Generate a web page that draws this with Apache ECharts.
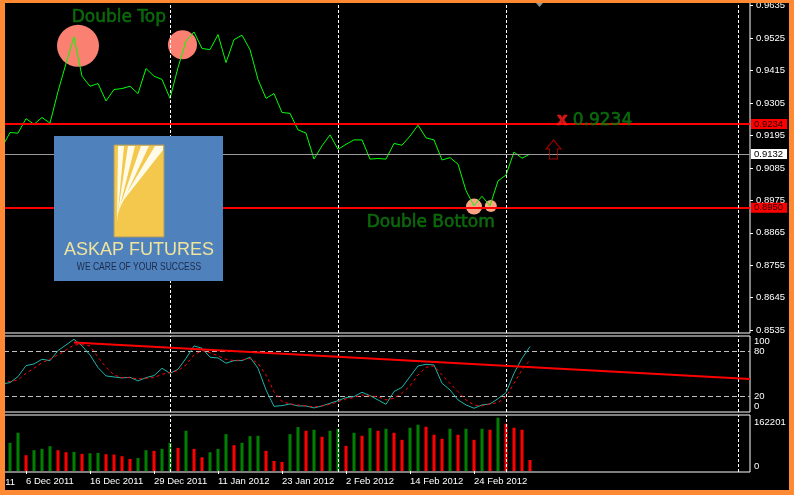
<!DOCTYPE html>
<html><head><meta charset="utf-8">
<script src="https://cdn.jsdelivr.net/npm/echarts@6/dist/echarts.min.js"></script>
<style>html,body{margin:0;padding:0;background:#000;}#c{width:794px;height:495px;}</style>
</head><body><div id="c"></div>
<script>
// ---- data (bar index i: one daily bar per index) ----
const closes = [0.9155,0.9205,0.9203,0.9252,0.9233,0.9256,0.9237,0.9344,0.9439,0.9529,
0.9396,0.9362,0.9371,0.9312,0.9351,0.9354,0.9362,0.9337,0.9422,0.9396,
0.9385,0.9321,0.9425,0.9515,0.9546,0.9490,0.9486,0.9537,0.9442,0.9520,
0.9535,0.9486,0.9385,0.9321,0.9337,0.9273,0.9270,0.9214,0.9203,0.9115,
0.9160,0.9197,0.9148,0.9165,0.9180,0.9180,0.9115,0.9117,0.9115,0.9168,
0.9162,0.9193,0.9230,0.9187,0.9180,0.9112,0.9120,0.9098,0.9008,0.8957,
0.8989,0.8957,0.9041,0.9061,0.9139,0.9118,0.9132];
const stochMain = [36.4,38.2,46.2,60.8,63.1,69.3,67.5,80.8,88.4,96,
87.1,75.1,58.2,47.1,45.7,44.4,45.3,40.4,44.8,47.5,
57.3,50.6,55.9,70.6,87.1,84,72,71.1,64,67.5,
67.5,72,57.3,28.4,6.6,7.5,9.7,7.1,7.1,4.4,
7.1,10.6,14.2,18.2,19.5,25.3,20.8,15.1,9.3,26.2,
31.9,46.2,60.4,62.6,61.7,37.3,28.4,15.1,8.4,4,
8.4,9.7,16.8,24.8,50.6,70.6,86.2];
const stochSignal = [41.7,39.5,41.7,50.6,57.3,64.8,69.3,75.1,81.7,88.4,
88.8,87.1,72,58.6,48.4,44.8,44.8,43.1,44,44.8,
49.3,51.5,54.2,61.7,75.1,80.8,78.2,73.7,69.3,67.5,
68.4,70.2,64,48.4,26.2,12.8,9.7,8.4,7.1,5.7,
7.1,9.3,12.8,16.4,18.2,21.7,20.4,19.5,15.1,17.3,
24,33.7,48.4,58.6,60.4,48.4,37.3,26.2,15.1,8.4,
7.1,9.7,11.5,19.5,37.3,55.1,68.4];
const volumes = [85690,116290,47950,63250,67330,75490,63250,57130,58140,52030,
54070,55090,51010,50000,44880,36720,39780,63250,61210,67330,
85690,70390,122410,67330,41820,57130,67330,112210,78550,85690,
106090,107110,61210,30600,27540,112210,133630,122410,125470,104050,
122410,128530,76510,116290,107110,130570,122410,128530,116290,94870,
131590,140770,134650,110170,97930,128530,110170,128530,94870,128530,
125470,162201,143830,131590,125470,33660]; // bars 1..66
const volumeUp = [1,1,0,1,1,1,0,0,1,0, 1,1,0,0,0,0,1,1,0,1, 1,0,1,0,0,1,1,1,0,1,
1,1,0,0,0,1,1,0,1,0, 1,1,0,1,0,1,0,1,0,0, 1,1,0,0,0,1,0,1,0,1, 0,1,0,0,0,0];
const priceTicks = [0.8535,0.8645,0.8755,0.8865,0.8975,0.9085,0.9195,0.9305,0.9415,0.9525,0.9635];
const stochLevelTicks = [20,80];
const stochTopTick = [100];
const stochBottomTick = [0];
const volumeTopTick = [162201];
const volumeBottomTick = [0];
const dateTickBars = [3,11,19,27,35,43,51,59];
const dateTickLabels = ['6 Dec 2011','16 Dec 2011','29 Dec 2011','11 Jan 2012','23 Jan 2012','2 Feb 2012','14 Feb 2012','24 Feb 2012'];
const gridLineBars = [21,42,63,92];
const resistance = 0.9234, support = 0.8950, bid = 0.9132;
const trendline = [[9,91.5],[93.5,43]];
const circleMarks = [[9.5,0.9499,42],[22.56,0.9503,29],[59,0.8954,16],[61.1,0.8956,12]];
const annotations = [
  {name:'Double Top', value:[8.71,0.95933], kind:'big'},
  {name:'Double Bottom', value:[45.59,0.88984], kind:'big'},
  {name:'0.9234', value:[71.34,0.92465], kind:'big'},
  {name:'x', value:[69.34,0.92441], kind:'cross'}
];
const arrowMark = [[68.94,0.91475]];

// ---- chart ----
const FONT = '"Liberation Sans", Arial, sans-serif';
const XMIN = 0.25, XMAX = 93.5;
const chart = echarts.init(document.getElementById('c'));
const gridBase = {show:true, borderColor:'#ffffff', borderWidth:1, backgroundColor:'transparent', containLabel:false, outerBoundsMode:'none'};
const vLines = {symbol:['none','none'], silent:true, label:{show:false},
  lineStyle:{color:'#ffffff', type:[3,2], width:1}, data: gridLineBars.map(b=>({xAxis:b}))};
const lbl = {color:'#ffffff', fontSize:9.5, fontFamily:FONT};

const levelLabel = (bg, fg) => ({show:true, position:'end', distance:1, formatter:p=>Number(p.value).toFixed(4),
  backgroundColor:bg, color:fg, fontSize:9.5, fontFamily:FONT, padding:[0,4,0,3], lineHeight:10});

function sideAxis(gridIndex, min, max, ticks, vAlign) {
  return {type:'value', gridIndex, position:'right', min, max, splitLine:{show:false},
    axisLine:{show:false}, axisTick:{show:false},
    axisLabel:Object.assign({customValues:ticks, margin:4, verticalAlign:vAlign,
      showMinLabel:true, showMaxLabel:true, hideOverlap:false, formatter:v=>String(v)}, lbl)};
}
const STOCH_MIN = -1, STOCH_MAX = 100.33, VOL_MIN = -3040, VOL_MAX = 170330;

chart.setOption({
  animation:false,
  backgroundColor:'#000000',
  grid:[
    Object.assign({left:4, top:2, width:746, height:331}, gridBase),
    Object.assign({left:4, top:336, width:746, height:76}, gridBase),
    Object.assign({left:4, top:415, width:746, height:57}, gridBase)
  ],
  xAxis:[
    {type:'value', gridIndex:0, min:XMIN, max:XMAX, show:false},
    {type:'value', gridIndex:1, min:XMIN, max:XMAX, show:false},
    {type:'value', gridIndex:2, min:XMIN, max:XMAX, splitLine:{show:false},
      axisLine:{show:false},
      axisTick:{show:true, customValues:dateTickBars, length:3, lineStyle:{color:'#ffffff'}},
      axisLabel:Object.assign({customValues:dateTickBars, align:'left', margin:4,
        formatter:v=>dateTickLabels[dateTickBars.indexOf(Math.round(v))] || ''}, lbl)}
  ],
  yAxis:[
    {type:'value', gridIndex:0, position:'right', min:0.85255, max:0.96475, splitLine:{show:false},
      axisLine:{show:false},
      axisTick:{show:true, customValues:priceTicks, length:3, lineStyle:{color:'#ffffff'}},
      axisLabel:Object.assign({customValues:priceTicks, margin:6, formatter:v=>v.toFixed(4)}, lbl)},
    sideAxis(1, STOCH_MIN, STOCH_MAX, stochLevelTicks, 'middle'),
    sideAxis(1, STOCH_MIN, STOCH_MAX, stochTopTick, 'top'),
    sideAxis(1, STOCH_MIN, STOCH_MAX, stochBottomTick, 'bottom'),
    sideAxis(2, VOL_MIN, VOL_MAX, volumeTopTick, 'top'),
    sideAxis(2, VOL_MIN, VOL_MAX, volumeBottomTick, 'bottom')
  ],
  series:[
    {type:'scatter', xAxisIndex:0, yAxisIndex:0, z:1, silent:true,
      data: circleMarks.map((c,k)=>({value:[c[0],c[1]], symbolSize:c[2],
        itemStyle:{color: k<2 ? '#fa8072' : '#fca484', opacity:1}})),
      symbol:'circle'},
    {type:'line', name:'Close', xAxisIndex:0, yAxisIndex:0, z:3, showSymbol:false, symbol:'none',
      data: closes.map((v,i)=>[i,v]), lineStyle:{color:'#00ff00', width:1}, itemStyle:{color:'#00ff00'},
      markLine:{symbol:['none','none'], silent:true, z:4, precision:4,
        data:[
          {yAxis:resistance, lineStyle:{color:'#ff0000', width:2, type:'solid'}, label:levelLabel('#ff0000','#200000')},
          {yAxis:support, lineStyle:{color:'#ff0000', width:2, type:'solid'}, label:levelLabel('#ff0000','#200000')},
          {yAxis:bid, lineStyle:{color:'#9a9a9a', width:1, type:'solid'}, label:levelLabel('#ffffff','#000000')}
        ]}},
    {type:'line', xAxisIndex:0, yAxisIndex:0, z:2, data:[], markLine:vLines},
    {type:'scatter', xAxisIndex:0, yAxisIndex:0, z:5, silent:true, symbolSize:0,
      data: annotations.map(a=>({name:a.name, value:a.value,
        label:{show:true, position:'right', distance:0, formatter:a.name,
          color: a.kind==='cross' ? '#ff1a1a' : '#0e7c0e',
          textBorderColor: a.kind==='cross' ? '#ff1a1a' : '#0e7c0e', textBorderWidth:0.6,
          fontSize:17, fontWeight: a.kind==='cross' ? 'bold' : 'normal',
          fontFamily:'"DejaVu Sans", Verdana, sans-serif'}}))},
    {type:'scatter', xAxisIndex:0, yAxisIndex:0, z:5, silent:true,
      symbol:'path://M7.5,0 L15,9 L11.5,9 L11.5,19 L3.5,19 L3.5,9 L0,9 Z', symbolSize:[15,19],
      itemStyle:{color:'rgba(0,0,0,0)', borderColor:'#d00000', borderWidth:1}, data:arrowMark},
    // stochastic pane
    {type:'line', xAxisIndex:1, yAxisIndex:1, z:3, symbol:'none', showSymbol:false,
      data: stochMain.map((v,i)=>[i,v]), lineStyle:{color:'#20b2aa', width:1},
      markLine:{symbol:['none','none'], silent:true, label:{show:false}, z:2,
        data:[{yAxis:80, lineStyle:{color:'#c0c0c0', type:[5,3], width:1}},
              {yAxis:20, lineStyle:{color:'#c0c0c0', type:[5,3], width:1}}]
          .concat(gridLineBars.map(b=>({xAxis:b, lineStyle:{color:'#ffffff', type:[3,2], width:1}})))}},
    {type:'line', xAxisIndex:1, yAxisIndex:1, z:3, symbol:'none', showSymbol:false,
      data: stochSignal.map((v,i)=>[i,v]), lineStyle:{color:'#ff0000', width:1, type:[3,3]}},
    {type:'line', xAxisIndex:1, yAxisIndex:1, z:4, symbol:'none', showSymbol:false,
      data: trendline, lineStyle:{color:'#ff0000', width:2}},
    // volume pane
    {type:'bar', xAxisIndex:2, yAxisIndex:4, barWidth:3, z:3,
      data: volumes.map((v,k)=>({value:[k+1,v], itemStyle:{color: volumeUp[k] ? '#008000' : '#ff0000'}})),
      markLine:vLines}
  ],
  graphic:[
    // logo
    {type:'rect', z:50, shape:{x:54,y:136,width:169,height:145}, style:{fill:'#4f81bd'}},
    {type:'rect', z:51, shape:{x:114,y:145,width:50,height:92}, style:{fill:'#f3c84c', stroke:'#a8986a', lineWidth:1}},
    {type:'polygon', z:52, shape:{points:[[117,222],[118,146],[124,146]]}, style:{fill:'#fffbe8'}},
    {type:'polygon', z:52, shape:{points:[[117,218],[128,146],[135,146]]}, style:{fill:'#fffbe8'}},
    {type:'polygon', z:52, shape:{points:[[118,212],[141,146],[149,146]]}, style:{fill:'#fffbe8'}},
    {type:'polygon', z:52, shape:{points:[[119,206],[155,146],[163,146],[163,150]]}, style:{fill:'#fffbe8'}},
    {type:'text', z:52, style:{text:'ASKAP FUTURES', x:139, y:250, align:'center', verticalAlign:'middle',
      textAlign:'center', textVerticalAlign:'middle', font:'18px "Liberation Sans", Arial, sans-serif', fill:'#eee49c'}},
    {type:'text', z:52, x:139, y:267, scaleX:0.81, style:{text:'WE CARE OF YOUR SUCCESS', x:0, y:0, align:'center', verticalAlign:'middle',
      textAlign:'center', textVerticalAlign:'middle', font:'10.5px "Liberation Sans", Arial, sans-serif', fill:'#1c2a48'}},
    // chart shift marker
    {type:'polygon', z:60, shape:{points:[[536,3],[543,3],[539.5,7]]}, style:{fill:'#909090'}},
    // clipped first date label
    {type:'text', z:60, style:{text:'11', x:15, y:482, align:'right', verticalAlign:'middle',
      textAlign:'right', textVerticalAlign:'middle', font:'9.5px "Liberation Sans", Arial, sans-serif', fill:'#ffffff'}},
    // orange window frame
    {type:'rect', z:100, shape:{x:0,y:0,width:794,height:3}, style:{fill:'#ff8a33'}},
    {type:'rect', z:100, shape:{x:0,y:0,width:5,height:495}, style:{fill:'#ff8a33'}},
    {type:'rect', z:100, shape:{x:789,y:0,width:5,height:495}, style:{fill:'#ff8a33'}},
    {type:'rect', z:100, shape:{x:0,y:490,width:794,height:5}, style:{fill:'#ff8a33'}}
  ]
});
</script></body></html>
